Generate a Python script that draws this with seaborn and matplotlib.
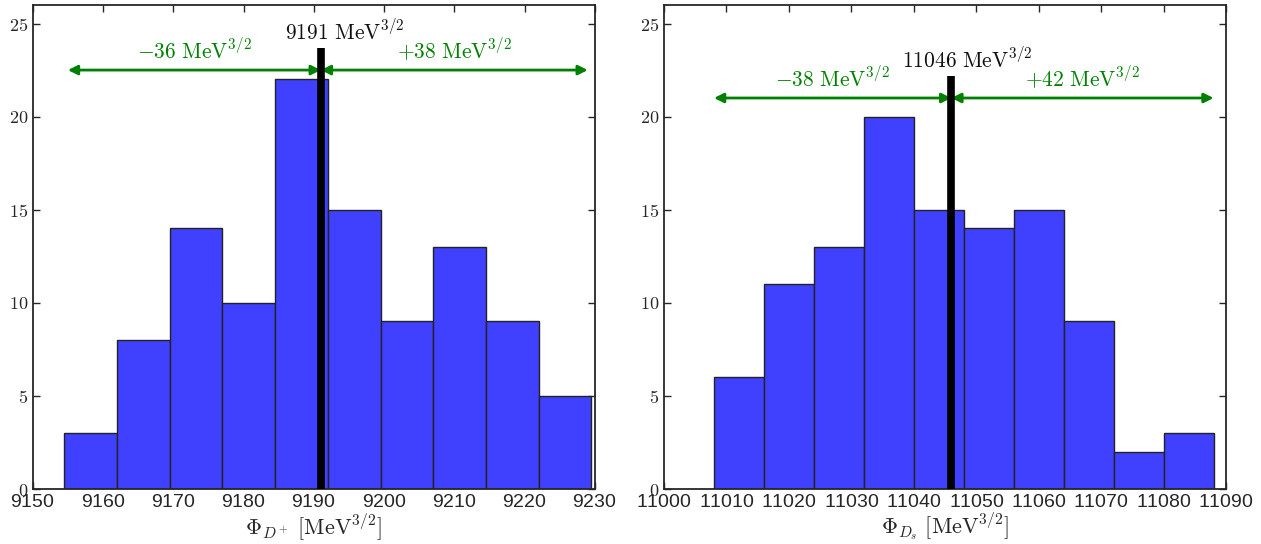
import numpy as np
import matplotlib
matplotlib.use("Agg")
import matplotlib.pyplot as plt
import seaborn as sns

# histogram data
dplus_edges = [9154.5 + 7.5 * i for i in range(11)]
dplus_counts = [3, 8, 14, 10, 22, 15, 9, 13, 9, 5]
dplus_central = 9191
dplus_lo, dplus_hi = 9155, 9229

ds_edges = [11008.0 + 8.0 * i for i in range(11)]
ds_counts = [6, 11, 13, 20, 15, 14, 15, 9, 2, 3]
ds_central = 11046
ds_lo, ds_hi = 11008, 11088

sns.set_style("ticks")
plt.rcParams["font.family"] = "serif"
plt.rcParams["font.serif"] = ["cmr10", "DejaVu Serif"]
plt.rcParams["mathtext.fontset"] = "cm"
plt.rcParams["axes.unicode_minus"] = False
plt.rcParams["axes.formatter.use_mathtext"] = True

fig = plt.figure(figsize=(12.61, 5.44), dpi=100)
ax1 = fig.add_axes([0.026, 0.101, 0.4457, 0.89])
ax2 = fig.add_axes([0.5266, 0.101, 0.4457, 0.89])


def panel(ax, edges, counts, central, lo, hi, xlim, xticks, xlabel,
          arrow_y, line_top, label_x):
    centers = [(edges[i] + edges[i + 1]) / 2 for i in range(len(counts))]
    sns.histplot(x=centers, weights=counts, bins=edges, ax=ax,
                 color="#4040ff", alpha=1.0, edgecolor="#222222", linewidth=1.0)
    ax.set_xlim(*xlim)
    ax.set_ylim(0, 26)
    ax.set_xticks(xticks)
    ax.set_yticks([0, 5, 10, 15, 20, 25])
    ax.tick_params(direction="in", top=True, right=True, length=5, width=1)
    ax.tick_params(axis="y", labelsize=13)
    for lab in ax.get_xticklabels():
        lab.set_fontfamily("Liberation Sans")
        lab.set_fontsize(14)
    for s in ax.spines.values():
        s.set_linewidth(1.3)
    ax.set_ylabel("")
    ax.set_xlabel(xlabel, fontsize=16, labelpad=1)

    # central value
    ax.plot([central, central], [0, line_top], color="black", lw=5.5,
            solid_capstyle="butt", zorder=5)
    ax.text(label_x, line_top + 0.2, r"$%d\ \mathrm{MeV}^{3/2}$" % central,
            ha="left", va="bottom", fontsize=15.5, color="#111111")

    # spread arrows
    kw = dict(arrowstyle="<|-|>", color="green", lw=2, mutation_scale=14,
              shrinkA=0, shrinkB=0)
    ax.annotate("", xy=(lo, arrow_y), xytext=(central, arrow_y), arrowprops=kw)
    ax.annotate("", xy=(central, arrow_y), xytext=(hi, arrow_y), arrowprops=kw)
    ax.text((lo + central) / 2, arrow_y + 0.4, r"$-%d\ \mathrm{MeV}^{3/2}$" % (central - lo),
            ha="center", va="bottom", fontsize=15.5, color="green")
    ax.text((central + hi) / 2, arrow_y + 0.4, r"$+%d\ \mathrm{MeV}^{3/2}$" % (hi - central),
            ha="center", va="bottom", fontsize=15.5, color="green")


panel(ax1, dplus_edges, dplus_counts, dplus_central, dplus_lo, dplus_hi,
      (9150, 9230), list(range(9150, 9231, 10)),
      r"$\Phi_{D^+}\ [\mathrm{MeV}^{3/2}]$", 22.5, 23.7, dplus_central - 5.1)
panel(ax2, ds_edges, ds_counts, ds_central, ds_lo, ds_hi,
      (11000, 11090), list(range(11000, 11091, 10)),
      r"$\Phi_{D_s}\ [\mathrm{MeV}^{3/2}]$", 21.0, 22.2, ds_central - 7.9)

fig.savefig("out.png", dpi=100)
